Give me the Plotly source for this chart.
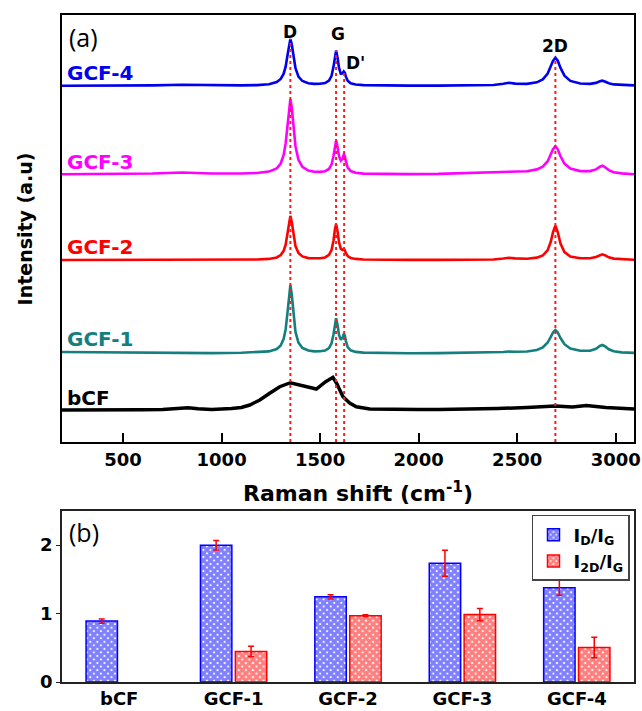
import numpy as np
import plotly.graph_objects as go

# ---------------- data: Raman spectra (intensity above each baseline, a.u.) ----------------
wavenumber = [190, 350, 500, 650, 800, 950, 1100, 1180, 1240, 1280,
              1300, 1315, 1325, 1335, 1342, 1349, 1356, 1365, 1375, 1390,
              1410, 1440, 1470, 1500, 1525, 1545, 1558, 1568, 1575, 1581,
              1588, 1596, 1605, 1614, 1620, 1625, 1631, 1640, 1655, 1680,
              1720, 1800, 1950, 2100, 2250, 2380, 2430, 2458, 2490, 2550,
              2600, 2630, 2655, 2670, 2682, 2694, 2706, 2720, 2740, 2770,
              2820, 2870, 2900, 2920, 2932, 2945, 2965, 2990, 3030, 3093]

gcf4 = [0, 0, 0, 0.3, 1.0, 0.4, 0.3, 0.6, 1.5, 3.6,
        6.7, 12.0, 19.1, 31.2, 41.4, 46.6, 41.4, 28.5, 17.5, 9.1,
        4.7, 2.5, 1.8, 1.9, 2.7, 5.2, 9.9, 19.1, 29.7, 35.1,
        28.5, 17.7, 12.0, 12.3, 14.3, 13.1, 9.0, 4.9, 2.4, 1.2,
        0.6, 0.3, 0.1, 0.1, 0.2, 0.7, 1.9, 3.0, 2.1, 1.8,
        3.4, 6.3, 12.1, 18.7, 24.9, 28.1, 25.0, 17.8, 10.0, 4.8,
        2.2, 1.8, 2.8, 4.4, 5.0, 4.2, 2.4, 1.3, 0.7, 0.35]

gcf3 = [0, 0.2, 0.3, 0.8, 1.8, 0.8, 0.8, 1.3, 2.7, 5.9,
        10.8, 19.4, 30.9, 50.4, 66.9, 75.1, 66.9, 45.9, 28.1, 14.6,
        7.5, 3.8, 2.5, 2.4, 3.1, 5.3, 9.8, 18.5, 28.5, 33.7,
        27.8, 18.0, 13.7, 15.8, 19.5, 18.6, 12.6, 6.8, 3.2, 1.5,
        0.7, 0.4, 0.2, 0.4, 1.3, 2.0, 2.5, 3.0, 2.8, 3.1,
        4.9, 7.6, 13.1, 19.3, 25.1, 28.0, 25.0, 18.0, 10.7, 5.7,
        3.2, 3.2, 4.9, 7.6, 8.6, 7.3, 4.2, 2.1, 0.9, 0]

gcf2 = [0, 0, 0, 0.2, 0.5, 0.3, 0.3, 0.5, 1.1, 2.6,
        5.0, 9.2, 15.3, 26.8, 37.9, 44.1, 38.0, 24.1, 13.9, 7.0,
        3.6, 1.9, 1.5, 1.7, 2.6, 5.1, 10.0, 19.5, 30.3, 35.9,
        29.1, 17.7, 11.2, 10.1, 11.0, 9.9, 6.9, 3.9, 2.1, 1.1,
        0.5, 0.2, 0.1, 0.1, 0.2, 0.5, 1.5, 2.3, 1.6, 1.2,
        2.4, 4.5, 10.0, 17.8, 27.9, 34.4, 27.9, 16.5, 7.9, 3.5,
        1.7, 1.7, 3.0, 5.0, 5.7, 4.8, 2.7, 1.4, 0.7, 0.3]

gcf1 = [1.3, 1.0, 0.5, 0.2, 0.6, 0.2, 0.5, 0.9, 1.9, 4.3,
        7.9, 14.5, 23.8, 41.7, 58.8, 68.2, 58.8, 37.2, 21.4, 10.7,
        5.4, 2.8, 1.9, 2.0, 2.8, 5.3, 10.0, 19.1, 29.5, 35.0,
        28.7, 18.4, 13.5, 15.7, 19.4, 18.1, 12.2, 6.3, 3.0, 1.4,
        0.7, 0.3, 0.1, 0.2, 0.4, 0.7, 1.3, 1.8, 1.5, 1.8,
        3.3, 5.8, 10.8, 16.1, 20.8, 23.2, 20.8, 15.3, 9.1, 4.7,
        2.5, 2.6, 4.5, 7.3, 8.3, 7.1, 4.0, 2.0, 0.9, 0.4]

wavenumber_bcf = [190, 300, 400, 500, 600, 700, 780, 830, 880, 950,
                  1050, 1100, 1143, 1194, 1244, 1295, 1349, 1396, 1430, 1481,
                  1528, 1565, 1584, 1600, 1616, 1650, 1684, 1752, 1850, 2000,
                  2100, 2250, 2400, 2550, 2694, 2780, 2851, 2950, 3093]
bcf = [0, 0.3, 0.2, 0.5, 0.3, 0.5, 1.5, 2.3, 1.3, 0.6,
       1.5, 2.5, 5, 10, 16.7, 23.3, 27.3, 25, 23, 21,
       28.3, 32.7, 26.7, 20, 13.3, 7, 3.3, 1, 0.5, 0.5,
       0.6, 0.7, 1.5, 2.5, 4, 3, 4.5, 2.5, 1]

spectra_names = ["bCF", "GCF-1", "GCF-2", "GCF-3", "GCF-4"]
peak_names = ["D", "G", "D'", "2D"]
peak_positions = [1349, 1581, 1622, 2694]
x_ticks = [500, 1000, 1500, 2000, 2500, 3000]

# ---------------- data: intensity ratios ----------------
samples = ["bCF", "GCF-1", "GCF-2", "GCF-3", "GCF-4"]
id_ig = [0.89, 2.00, 1.245, 1.735, 1.378]
id_ig_err = [0.03, 0.07, 0.03, 0.19, 0.11]
i2d_ig = [None, 0.446, 0.97, 0.985, 0.505]
i2d_ig_err = [0, 0.075, 0.012, 0.09, 0.15]

# ---------------- styling ----------------
FONT = "DejaVu Sans"
colors = {"bCF": "#000000", "GCF-1": "#137f7f", "GCF-2": "#ff0000",
          "GCF-3": "#ff00ff", "GCF-4": "#0000ee"}
offsets = {"bCF": 32.0, "GCF-1": 88.7, "GCF-2": 182.0, "GCF-3": 267.7, "GCF-4": 356.3}
label_y = {"bCF": 43.7, "GCF-1": 102.7, "GCF-2": 195.3, "GCF-3": 280.3, "GCF-4": 369.0}
series = {"bCF": (wavenumber_bcf, bcf), "GCF-1": (wavenumber, gcf1),
          "GCF-2": (wavenumber, gcf2), "GCF-3": (wavenumber, gcf3),
          "GCF-4": (wavenumber, gcf4)}

fig = go.Figure()

for name in spectra_names:
    xs, ys = series[name]
    fig.add_trace(go.Scatter(
        x=xs, y=[v + offsets[name] for v in ys], mode="lines",
        line=dict(color=colors[name], width=3.5 if name == "bCF" else 2.6),
        showlegend=False, xaxis="x", yaxis="y", hoverinfo="skip"))

# dotted peak markers (from top of GCF-4 peak down to axis)
top_x, top_y = series["GCF-4"]
for pos in peak_positions:
    top = float(np.interp(pos, top_x, top_y)) + offsets["GCF-4"]
    fig.add_trace(go.Scatter(
        x=[pos, pos], y=[0, top], mode="lines",
        line=dict(color="#ff1a1a", width=2, dash="dot"),
        showlegend=False, xaxis="x", yaxis="y", hoverinfo="skip"))

# bars
fig.add_trace(go.Bar(
    x=samples, y=id_ig, name="I<sub>D</sub>/I<sub>G</sub>",
    marker=dict(color="white", line=dict(color="#0000ff", width=1.5),
                pattern=dict(shape="x", fgcolor="#0000ff", bgcolor="white",
                             size=5, solidity=0.85)),
    error_y=dict(type="data", array=id_ig_err, color="#ff0000",
                 thickness=1.5, width=3),
    xaxis="x2", yaxis="y2"))
fig.add_trace(go.Bar(
    x=samples, y=i2d_ig, name="I<sub>2D</sub>/I<sub>G</sub>",
    marker=dict(color="white", line=dict(color="#ff0000", width=1.5),
                pattern=dict(shape="x", fgcolor="#ff0000", bgcolor="white",
                             size=5, solidity=0.85)),
    error_y=dict(type="data", array=i2d_ig_err, color="#ff0000",
                 thickness=1.5, width=3),
    xaxis="x2", yaxis="y2"))

annotations = []
for name in spectra_names:
    annotations.append(dict(
        x=205, y=label_y[name], xref="x", yref="y", text=name,
        showarrow=False, xanchor="left", yanchor="middle",
        font=dict(family=FONT, size=20, color=colors[name], weight="bold")))

peak_label_pos = {"D": (1349, 410.5), "G": (1590, 408), "D'": (1678, 379.3), "2D": (2690, 396)}
for pn in peak_names:
    px, py = peak_label_pos[pn]
    annotations.append(dict(
        x=px, y=py, xref="x", yref="y", text=pn, showarrow=False,
        xanchor="center", yanchor="middle",
        font=dict(family=FONT, size=17, color="black", weight="bold")))

annotations += [
    dict(x=0.5175, y=0.2849, xref="paper", yref="paper",
         text="Raman shift (cm<sup>-1</sup>)", showarrow=False,
         xanchor="center", yanchor="middle",
         font=dict(family=FONT, size=22, color="black", weight="bold")),
    dict(x=-0.0647, y=0.68, xref="paper", yref="paper", textangle=-90,
         text="Intensity (a.u)", showarrow=False,
         xanchor="center", yanchor="middle",
         font=dict(family=FONT, size=19, color="black", weight="bold")),
    dict(x=0.0376, y=0.9663, xref="paper", yref="paper", text="(a)",
         showarrow=False, xanchor="center", yanchor="middle",
         font=dict(family="Open Sans", size=25, color="black")),
    dict(x=0.0376, y=0.2255, xref="paper", yref="paper", text="(b)",
         showarrow=False, xanchor="center", yanchor="middle",
         font=dict(family="Open Sans", size=25, color="black")),
]

fig.update_layout(
    width=642, height=711,
    margin=dict(l=62, r=8, t=15, b=29, autoexpand=False),
    paper_bgcolor="white", plot_bgcolor="white",
    font=dict(family=FONT, color="black"),
    barmode="group", bargap=0.39, bargroupgap=0.1,
    annotations=annotations,
    xaxis=dict(domain=[0, 1], anchor="y", range=[190, 3093], automargin=False,
               tickvals=x_ticks, ticks="inside", ticklen=9, tickwidth=2,
               tickcolor="black", showline=True, linewidth=2, linecolor="black",
               mirror=True, showgrid=False, zeroline=False,
               ticklabeloverflow="allow",
               tickfont=dict(family=FONT, size=18, color="black", weight="bold")),
    yaxis=dict(domain=[0.3598, 1], anchor="x", range=[0, 427], automargin=False,
               showticklabels=False, ticks="", showline=True, linewidth=2,
               linecolor="black", mirror=True, showgrid=False, zeroline=False),
    xaxis2=dict(domain=[0, 1], anchor="y2", range=[-0.5, 4.5], automargin=False,
                showline=True, linewidth=1.5, linecolor="#222", mirror=True,
                ticks="", showgrid=False, ticklabeloverflow="allow",
                tickfont=dict(family=FONT, size=18, color="black", weight="bold")),
    yaxis2=dict(domain=[0, 0.2564], anchor="x2", range=[0, 2.5], automargin=False,
                tickvals=[0, 1, 2], ticks="outside", ticklen=4, tickcolor="#222",
                showline=True, linewidth=1.5, linecolor="#222", mirror=True,
                showgrid=False, zeroline=False,
                tickfont=dict(family=FONT, size=18, color="black", weight="bold")),
    legend=dict(x=0.993, y=0.2504, xanchor="right", yanchor="top",
                bgcolor="white", bordercolor="#444", borderwidth=1.5,
                font=dict(family=FONT, size=18, color="black", weight="bold"),
                tracegroupgap=0, itemwidth=30),
)

fig.write_html("out.html")
